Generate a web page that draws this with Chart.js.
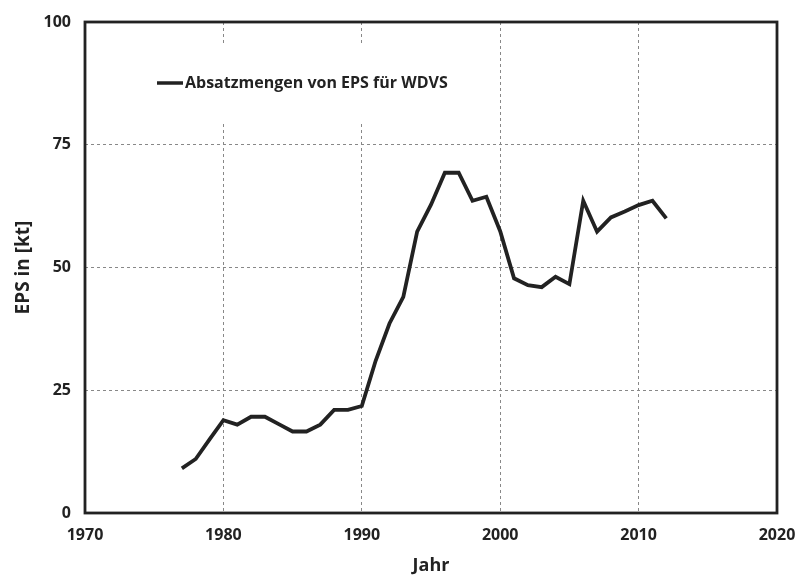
<!DOCTYPE html>
<html>
<head>
<meta charset="utf-8">
<script src="https://cdn.jsdelivr.net/npm/chart.js@4/dist/chart.umd.min.js"></script>
<style>
  html, body { margin: 0; padding: 0; background: #fff; }
  #wrap { width: 798px; height: 575px; }
</style>
</head>
<body>
<div id="wrap"><canvas id="eps"></canvas></div>
<script>
// Absatzmengen EPS fuer WDVS
const years = [1977, 1978, 1979, 1980, 1981, 1982, 1983, 1984, 1985, 1986, 1987, 1988, 1989, 1990,
    1991, 1992, 1993, 1994, 1995, 1996, 1997, 1998, 1999, 2000, 2001, 2002, 2003, 2004, 2005,
    2006, 2007, 2008, 2009, 2010, 2011, 2012]
const eps = [9.1, 11, 15, 18.9, 18, 19.6, 19.6, 18.1, 16.6, 16.6, 18, 21, 21, 21.8,
    31, 38.6, 44, 57.3, 62.8, 69.3, 69.3, 63.6, 64.4, 57.4, 47.8, 46.4, 46, 48.1, 46.6,
    63.6, 57.3, 60.2, 61.4, 62.7, 63.6, 60]
const yTicks = [0, 25, 50, 75, 100]
const xTicks = [1970, 1980, 1990, 2000, 2010, 2020]

const seriesLabel = 'Absatzmengen von EPS für WDVS'
const ink = '#222'
const font = '"Open Sans", sans-serif'

const points = years.map((y, i) => ({ x: y, y: eps[i] }))

const frame = {
    id: 'frame',
    beforeDatasetsDraw(chart) {
        const ctx = chart.ctx
        // white legend box hides the grid behind it
        ctx.save()
        ctx.fillStyle = '#fff'
        ctx.fillRect(140, 45, 340, 77)
        ctx.restore()
    },
    afterDatasetsDraw(chart) {
        const { ctx, chartArea: a } = chart
        ctx.save()
        ctx.strokeStyle = ink
        ctx.lineWidth = 2.8
        ctx.strokeRect(a.left, a.top, a.right - a.left, a.bottom - a.top)

        // legend
        ctx.lineWidth = 3.5
        ctx.beginPath()
        ctx.moveTo(157, 83)
        ctx.lineTo(183, 83)
        ctx.stroke()
        ctx.fillStyle = ink
        ctx.font = 'bold 16px ' + font
        ctx.textBaseline = 'middle'
        ctx.fillText(chart.data.datasets[0].label, 185, 83)
        ctx.restore()
    }
}

new Chart(document.getElementById('eps'), {
    type: 'line',
    data: {
        datasets: [
            {
                label: seriesLabel,
                data: points,
                borderColor: ink,
                borderWidth: 3.8,
                pointRadius: 0,
                tension: 0,
                fill: false
            }
        ]
    },
    options: {
        responsive: true,
        maintainAspectRatio: false,
        animation: false,
        layout: {
            padding: { top: 22, right: 21, left: 0, bottom: 0 }
        },
        plugins: {
            legend: { display: false },
            tooltip: { enabled: false }
        },
        scales: {
            x: {
                type: 'linear',
                min: 1970,
                max: 2020,
                afterBuildTicks: s => { s.ticks = xTicks.map(v => ({ value: v })) },
                afterFit: s => { s.height = 62; s.paddingLeft = 0; s.paddingRight = 0 },
                grid: { color: '#888', lineWidth: 1, drawTicks: false },
                border: { display: false, dash: [3, 3] },
                ticks: {
                    padding: 13,
                    color: ink,
                    font: { family: font, size: 16, weight: 'bold' },
                    callback: v => String(v)
                },
                title: {
                    display: true,
                    text: 'Jahr',
                    color: ink,
                    padding: { top: 8, bottom: -2 },
                    font: { family: font, size: 18, weight: 'bold' }
                }
            },
            y: {
                min: 0,
                max: 100,
                afterBuildTicks: s => { s.ticks = yTicks.map(v => ({ value: v })) },
                afterFit: s => { s.width = 85; s.paddingTop = 0; s.paddingBottom = 0 },
                grid: { color: '#888', lineWidth: 1, drawTicks: false },
                border: { display: false, dash: [3, 3] },
                ticks: {
                    padding: 14,
                    color: ink,
                    font: { family: font, size: 16, weight: 'bold' }
                },
                title: {
                    display: true,
                    text: 'EPS in [kt]',
                    color: ink,
                    padding: { top: 12, bottom: 0 },
                    font: { family: font, size: 19, weight: 'bold' }
                }
            }
        }
    },
    plugins: [frame]
})
</script>
</body>
</html>
